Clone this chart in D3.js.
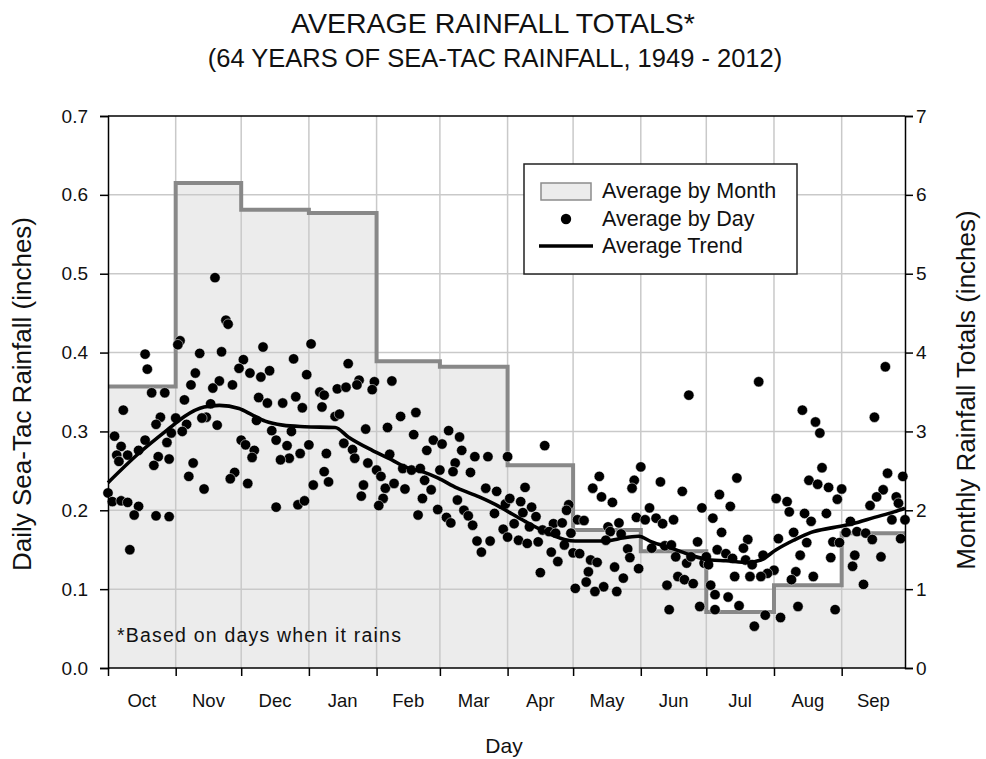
<!DOCTYPE html>
<html><head><meta charset="utf-8">
<script src="https://cdn.jsdelivr.net/npm/d3@7/dist/d3.min.js"></script>
<style>body{margin:0;background:#fff}svg{display:block}text{font-family:"Liberation Sans",Arial,sans-serif;fill:#111}</style>
</head><body><svg id="c" width="986" height="759"></svg>
<script>
// ---- data ----
const months = ["Oct","Nov","Dec","Jan","Feb","Mar","Apr","May","Jun","Jul","Aug","Sep"];
const monthStart = [0,31,61,92,123,152,183,213,244,274,305,336,365];
const monthTotals = [3.57,6.15,5.81,5.77,3.89,3.82,2.57,1.75,1.48,0.71,1.05,1.71];
const leftTicks = [0,0.1,0.2,0.3,0.4,0.5,0.6,0.7];
const rightTicks = [0,1,2,3,4,5,6,7];
const dayIdx = [49,54,55,33,32,17,18,42,52,71,62,60,65,74,70,85,91,40,38,51,48,57,20,26,35,69,73,80,86,89,7,47,24,22,31,36,34,45,43,50,68,75,77,84,82,92,88,83,79,3,6,4,5,9,14,17,27,23,28,21,29,61,63,67,66,39,37,58,56,64,44,0,2,6,9,14,12,22,28,77,87,90,10,
93,110,97,99,98,105,109,115,114,122,121,130,104,106,118,128,134,141,140,100,108,112,113,119,123,125,129,99,101,94,117,116,127,126,124,131,136,135,139,143,145,149,153,146,156,161,162,152,148,144,142,159,158,166,168,174,160,151,155,157,163,165,167,173,178,177,182,169,175,171,181,183,
266,200,244,225,222,226,231,241,240,253,263,272,191,184,189,194,196,190,186,193,199,204,208,211,210,215,218,183,188,192,197,202,205,209,212,229,234,235,230,242,246,248,251,254,259,203,206,213,216,221,224,220,219,232,238,239,243,236,227,223,233,214,198,249,255,258,260,265,270,267,261,264,268,256,257,271,273,228,
356,298,318,324,326,351,327,321,325,330,336,334,357,364,355,352,349,361,362,288,280,285,277,306,311,312,319,322,329,281,293,291,279,283,286,274,275,292,295,300,307,314,320,317,315,313,323,305,302,299,294,287,276,278,284,278,289,301,308,296,316,333,331,332,335,338,343,347,350,342,341,346,354,340,359,363,365];
const dayAvg = [.495,.441,.436,.415,.410,.398,.379,.399,.401,.407,.391,.380,.374,.377,.369,.392,.372,.374,.359,.364,.355,.359,.349,.349,.340,.343,.336,.336,.344,.330,.327,.335,.318,.309,.317,.309,.300,.318,.317,.308,.314,.301,.289,.300,.282,.283,.272,.266,.264,.294,.281,.270,.262,.270,.276,.289,.286,.268,.265,.257,.298,.289,.283,.276,.267,.260,.243,.248,.240,.234,.227,.222,.211,.212,.210,.205,.194,.193,.192,.204,.207,.212,.150,
.411,.386,.350,.346,.331,.354,.356,.365,.359,.363,.353,.364,.319,.322,.303,.305,.319,.324,.296,.272,.285,.277,.266,.260,.251,.243,.271,.249,.236,.232,.232,.218,.228,.215,.206,.234,.227,.253,.251,.253,.238,.289,.284,.276,.301,.293,.276,.251,.226,.215,.194,.260,.249,.248,.268,.268,.213,.201,.191,.184,.200,.193,.181,.228,.224,.196,.208,.161,.161,.147,.176,.268,
.346,.282,.255,.243,.228,.217,.210,.238,.228,.236,.224,.203,.229,.215,.211,.204,.192,.197,.183,.179,.175,.183,.184,.207,.200,.188,.187,.166,.162,.158,.160,.173,.171,.156,.171,.179,.184,.170,.173,.191,.188,.203,.190,.183,.188,.147,.135,.146,.145,.137,.134,.122,.109,.128,.151,.140,.126,.114,.103,.097,.097,.101,.121,.152,.155,.156,.141,.133,.160,.141,.116,.112,.107,.105,.074,.078,.133,.162,
.382,.363,.327,.312,.298,.318,.254,.238,.233,.229,.227,.214,.247,.243,.226,.217,.206,.217,.209,.241,.220,.205,.190,.215,.211,.198,.196,.186,.196,.172,.163,.152,.150,.145,.139,.141,.131,.137,.131,.143,.164,.172,.159,.143,.122,.112,.116,.124,.120,.116,.116,.116,.105,.093,.090,.074,.079,.067,.064,.053,.078,.074,.140,.160,.159,.172,.173,.171,.163,.143,.129,.106,.141,.186,.188,.164,.188];
const trendDay = [0,14,29,35,44,51,60,66,72,80,90,104,110,121,130,136,144,151,160,170,179,184,191,200,209,214,228,234,243,249,258,267,276,283,293,299,306,314,322,332,341,351,360,365];
const trendVal = [.235,.272,.306,.319,.331,.333,.329,.321,.313,.308,.306,.305,.293,.276,.264,.255,.249,.241,.228,.217,.205,.197,.186,.173,.163,.161,.161,.164,.167,.160,.152,.143,.137,.136,.134,.137,.150,.162,.172,.178,.183,.191,.198,.2025];
const legendItems = ["Average by Month","Average by Day","Average Trend"];

// ---- chart ----
const svg = d3.select("#c");
const L=108,R=905,T=116,B=668;
const x = d3.scaleLinear().domain([0,365]).range([L,R]);
const yL = d3.scaleLinear().domain([0,0.7]).range([B,T]);
const yR = d3.scaleLinear().domain([0,7]).range([B,T]);

function txt(g,xp,yp,s,size,anchor,rot,ls){
  const t = g.append("text").attr("transform",`translate(${xp},${yp})`+(rot?` rotate(${rot})`:""))
    .attr("text-anchor",anchor||"middle").attr("font-size",size).text(s);
  if(ls) t.attr("letter-spacing",ls);
  return t;
}

// monthly step fill
let d = `M${x(0)},${yR(0)}`;
monthTotals.forEach((v,i)=>{ d += `L${x(monthStart[i])},${yR(v)}L${x(monthStart[i+1])},${yR(v)}`; });
d += `L${x(365)},${yR(0)}Z`;
svg.append("path").attr("d",d).attr("fill","#ececec");

// grid
const grid = svg.append("g").attr("stroke","#c9c9c9").attr("stroke-width",1.5);
leftTicks.slice(1,-1).forEach(t=>grid.append("line").attr("x1",L).attr("x2",R).attr("y1",yL(t)).attr("y2",yL(t)));
monthStart.slice(1,-1).forEach(m=>grid.append("line").attr("y1",T).attr("y2",B).attr("x1",x(m)).attr("x2",x(m)));

// step line
let s = "";
monthTotals.forEach((v,i)=>{ s += (i?"L":"M")+`${x(monthStart[i])},${yR(v)}L${x(monthStart[i+1])},${yR(v)}`; });
svg.append("path").attr("d",s).attr("fill","none").attr("stroke","#888").attr("stroke-width",4);

// daily points
svg.append("g").selectAll("circle").data(dayIdx.map((dd,i)=>[dd,dayAvg[i]])).join("circle")
  .attr("cx",p=>x(p[0])).attr("cy",p=>yL(p[1])).attr("r",5.2).attr("fill","#000")
  .attr("stroke","#fff").attr("stroke-width",0.5);

// trend
svg.append("path").datum(trendDay.map((dd,i)=>[dd,trendVal[i]]))
  .attr("d",d3.line().x(p=>x(p[0])).y(p=>yL(p[1])).curve(d3.curveMonotoneX))
  .attr("fill","none").attr("stroke","#000").attr("stroke-width",3.6);

// axes
const axL = svg.append("g").attr("transform",`translate(${L},0)`)
  .call(d3.axisLeft(yL).tickValues(leftTicks).tickFormat(d3.format(".1f")).tickSize(8).tickPadding(12));
const axR = svg.append("g").attr("transform",`translate(${R},0)`)
  .call(d3.axisRight(yR).tickValues(rightTicks).tickFormat(d3.format("d")).tickSize(8).tickPadding(3));
const axB = svg.append("g").attr("transform",`translate(0,${B})`)
  .call(d3.axisBottom(x).tickValues(monthStart.slice(0,-1)).tickFormat("").tickSize(8));
svg.append("line").attr("x1",L).attr("x2",R).attr("y1",T).attr("y2",T).attr("stroke","#000").attr("stroke-width",1.5);
[axL,axR,axB].forEach(a=>{
  a.select(".domain").attr("stroke","#000").attr("stroke-width",1.5);
  a.selectAll(".tick line").attr("stroke","#000").attr("stroke-width",1.5);
  a.selectAll("text").attr("font-size",19).attr("fill","#111").attr("font-family","Liberation Sans, Arial, sans-serif");
});
axB.select(".domain").attr("d",`M${L},0H${R}`);

// month labels
months.forEach((m,i)=>txt(svg,(x(monthStart[i])+x(monthStart[i+1]))/2,707,m,18.5));

// titles
txt(svg,493,33,"AVERAGE RAINFALL TOTALS*",28.5);
txt(svg,495,67,"(64 YEARS OF SEA-TAC RAINFALL, 1949 - 2012)",25.5);
txt(svg,504,753,"Day",21);
txt(svg,31,394,"Daily Sea-Tac Rainfall (inches)",26,"middle",-90);
txt(svg,975,390,"Monthly Rainfall Totals (inches)",26,"middle",-90);
txt(svg,117,642,"*Based on days when it rains",19.5,"start",0,1.2);

// legend
const lg = svg.append("g");
lg.append("rect").attr("x",524).attr("y",164).attr("width",273).attr("height",110).attr("fill","#fff").attr("stroke","#222").attr("stroke-width",1.5);
lg.append("rect").attr("x",541).attr("y",183).attr("width",50).attr("height",17).attr("fill","#ececec").attr("stroke","#8c8c8c").attr("stroke-width",1.5);
lg.append("circle").attr("cx",566).attr("cy",219).attr("r",5.2).attr("fill","#000");
lg.append("line").attr("x1",539).attr("x2",593).attr("y1",246).attr("y2",246).attr("stroke","#000").attr("stroke-width",3.6);
legendItems.forEach((t,i)=>txt(lg,602,[198,226,253][i],t,21.5,"start"));
</script></body></html>
